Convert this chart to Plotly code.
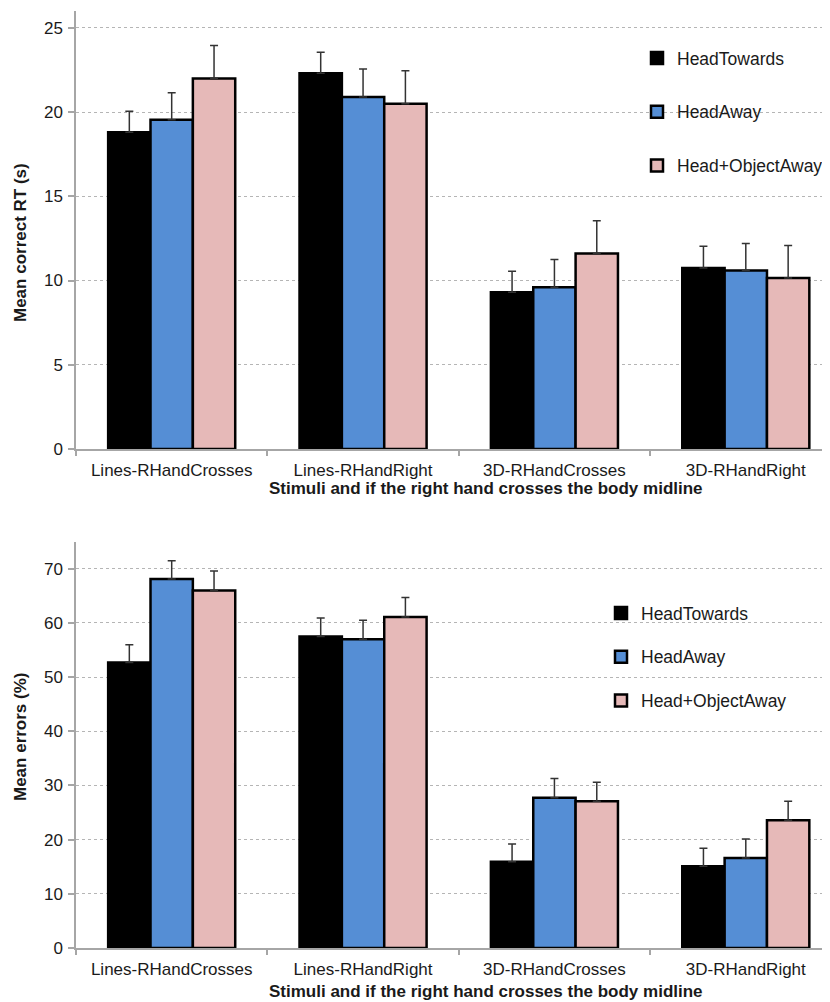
import plotly.graph_objects as go

categories = ["Lines-RHandCrosses", "Lines-RHandRight", "3D-RHandCrosses", "3D-RHandRight"]
series_names = ["HeadTowards", "HeadAway", "Head+ObjectAway"]
colors = ["#000000", "#558ed5", "#e6b9b8"]

# Top chart: mean correct RT (s)
rt_head_towards = [18.8, 22.3, 9.3, 10.75]
rt_head_away = [19.55, 20.9, 9.6, 10.6]
rt_head_object_away = [22.0, 20.5, 11.6, 10.15]
rt_err_head_towards = [1.25, 1.25, 1.25, 1.28]
rt_err_head_away = [1.6, 1.65, 1.65, 1.6]
rt_err_head_object_away = [1.95, 1.95, 1.95, 1.93]

# Bottom chart: mean errors (%)
er_head_towards = [52.7, 57.5, 15.9, 15.1]
er_head_away = [68.1, 57.0, 27.75, 16.6]
er_head_object_away = [66.0, 61.1, 27.1, 23.6]
er_err_head_towards = [3.3, 3.4, 3.3, 3.3]
er_err_head_away = [3.4, 3.5, 3.55, 3.5]
er_err_head_object_away = [3.6, 3.6, 3.5, 3.5]

rt_values = [rt_head_towards, rt_head_away, rt_head_object_away]
rt_errors = [rt_err_head_towards, rt_err_head_away, rt_err_head_object_away]
er_values = [er_head_towards, er_head_away, er_head_object_away]
er_errors = [er_err_head_towards, er_err_head_away, er_err_head_object_away]

FONT = "Liberation Sans, Arial, Helvetica, sans-serif"
TXT = "#1a1a1a"
AXC = "#a6a6a6"

fig = go.Figure()

for i, name in enumerate(series_names):
    fig.add_trace(go.Bar(
        x=categories, y=rt_values[i], name=name,
        marker=dict(color=colors[i], line=dict(color="#000000", width=2.5)),
        error_y=dict(type="data", symmetric=False, array=rt_errors[i],
                     arrayminus=[0] * len(categories), color="#333333",
                     thickness=1.5, width=4),
        xaxis="x", yaxis="y", legend="legend", legendgroup="a" + str(i),
    ))
for i, name in enumerate(series_names):
    fig.add_trace(go.Bar(
        x=categories, y=er_values[i], name=name,
        marker=dict(color=colors[i], line=dict(color="#000000", width=2.5)),
        error_y=dict(type="data", symmetric=False, array=er_errors[i],
                     arrayminus=[0] * len(categories), color="#333333",
                     thickness=1.5, width=4),
        xaxis="x2", yaxis="y2", legend="legend2", legendgroup="b" + str(i),
    ))

# page has an 8px body margin; work in page pixel coordinates
OFF = 8
W, H = 830 - OFF, 1002 - OFF
PL, PR, PT, PB = 76, 830, 11, 948  # plot area in page pixels
L, R, T, B = PL - OFF, (830 - PR), PT - OFF, (1002 - PB)
pw, ph = PR - PL, PB - PT


def py(pix):
    return (PB - pix) / ph


def px(pix):
    return (pix - PL) / pw


xcommon = dict(
    type="category", range=[-0.5, 3.44], showline=True, linecolor=AXC, linewidth=1.5,
    ticks="outside", tickson="boundaries", ticklen=5, tickcolor=AXC, tickwidth=1.5,
    showgrid=False, zeroline=False, automargin=False, ticklabelstandoff=5,
    tickfont=dict(family=FONT, size=17, color=TXT),
)
ycommon = dict(
    showline=True, linecolor=AXC, linewidth=1.5, ticks="outside", ticklen=6,
    tickcolor=AXC, tickwidth=1.5, showgrid=True, gridcolor="#b5b5b5", griddash="dot",
    gridwidth=1, zeroline=False, automargin=False, ticklabelstandoff=2,
    tickfont=dict(family=FONT, size=17, color=TXT),
)

fig.update_layout(
    width=W, height=H,
    margin=dict(l=L, r=R, t=T, b=B, autoexpand=False),
    paper_bgcolor="white", plot_bgcolor="white",
    barmode="group", bargap=0.336, bargroupgap=0,
    font=dict(family=FONT, color=TXT),
    xaxis=dict(domain=[0, 1], anchor="y", **xcommon),
    yaxis=dict(domain=[py(449), 1.0], anchor="x", range=[0, 26], dtick=5, **ycommon),
    xaxis2=dict(domain=[0, 1], anchor="y2", **xcommon),
    yaxis2=dict(domain=[0, py(541.7)], anchor="x2", range=[0, 75], dtick=10, **ycommon),
    legend=dict(x=px(637), y=py(40), xanchor="left", yanchor="top",
                font=dict(family=FONT, size=17.5, color=TXT), bgcolor="rgba(0,0,0,0)",
                traceorder="grouped", tracegroupgap=28, itemwidth=30),
    legend2=dict(x=px(601), y=py(595), xanchor="left", yanchor="top",
                 font=dict(family=FONT, size=17.5, color=TXT), bgcolor="rgba(0,0,0,0)",
                 traceorder="grouped", tracegroupgap=18, itemwidth=30),
    annotations=[
        dict(text="<b>Stimuli and if the right hand crosses the body midline</b>",
             x=px(486), y=py(489), xref="paper", yref="paper", showarrow=False,
             xanchor="center", yanchor="middle", font=dict(family=FONT, size=17, color=TXT)),
        dict(text="<b>Stimuli and if the right hand crosses the body midline</b>",
             x=px(486), y=py(991), xref="paper", yref="paper", showarrow=False,
             xanchor="center", yanchor="middle", font=dict(family=FONT, size=17, color=TXT)),
        dict(text="<b>Mean correct RT (s)</b>", textangle=-90,
             x=px(20), y=py(243), xref="paper", yref="paper", showarrow=False,
             xanchor="center", yanchor="middle", font=dict(family=FONT, size=17, color=TXT)),
        dict(text="<b>Mean errors (%)</b>", textangle=-90,
             x=px(20), y=py(737), xref="paper", yref="paper", showarrow=False,
             xanchor="center", yanchor="middle", font=dict(family=FONT, size=17, color=TXT)),
    ],
)

fig.write_html("out.html")
